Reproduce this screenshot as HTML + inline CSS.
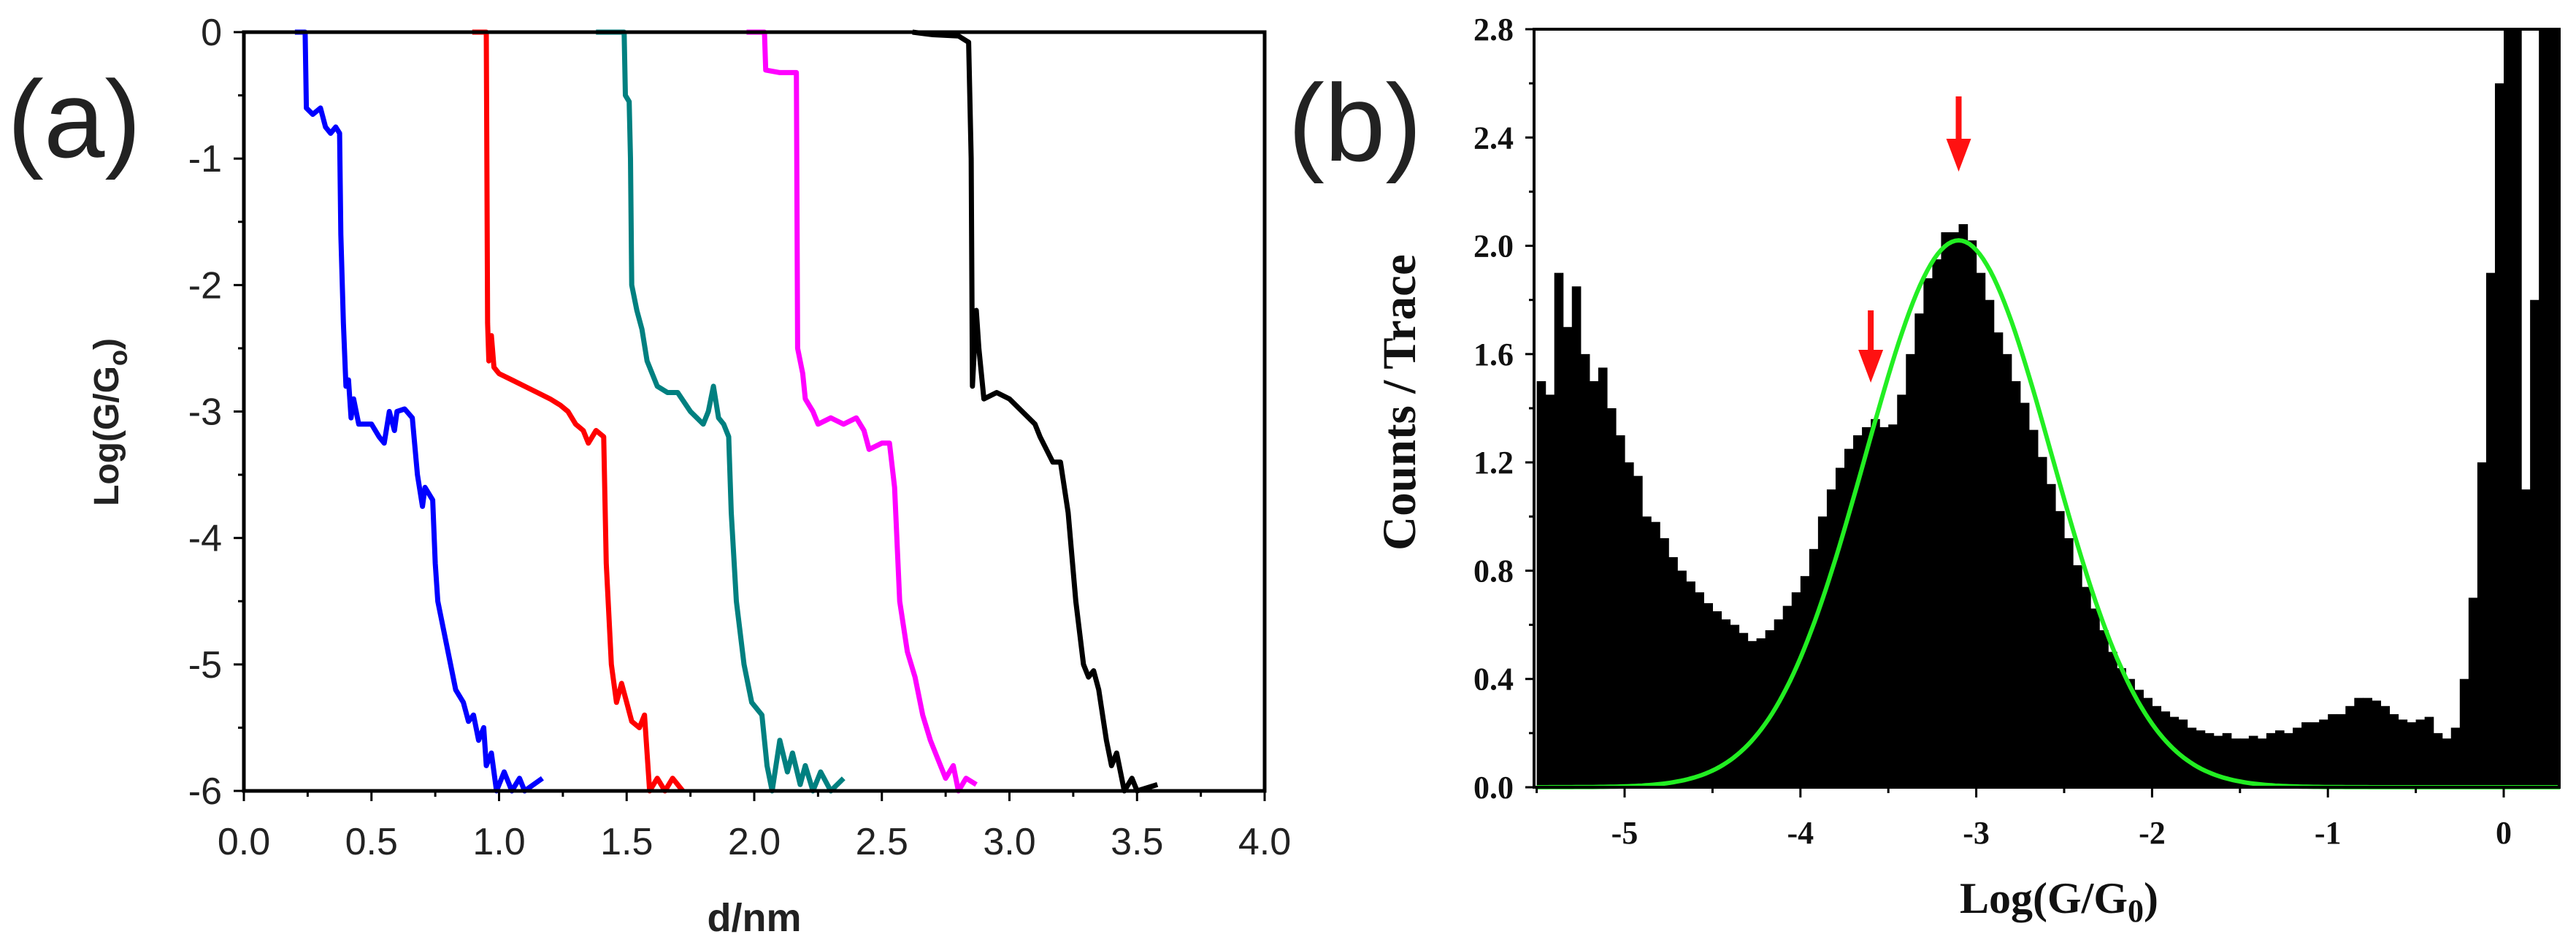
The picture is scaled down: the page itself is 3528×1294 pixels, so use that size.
<!DOCTYPE html>
<html><head><meta charset="utf-8"><style>
html,body{margin:0;padding:0;background:#fff;}
svg{display:block;}
</style></head><body>
<svg id="fig" width="3528" height="1294" viewBox="0 0 3528 1294" xmlns="http://www.w3.org/2000/svg">
<g id="pa"></g>
<g id="pb"></g>
</svg>
<script>
// ---- Panel (a) data ----
const aXTicks = [0,0.5,1,1.5,2,2.5,3,3.5,4];
const aXTickLabels = ["0.0","0.5","1.0","1.5","2.0","2.5","3.0","3.5","4.0"];
const aYTicks = [0,-1,-2,-3,-4,-5,-6];
const traceColors = ["#0000ff","#ff0000","#008080","#ff00ff","#000000"];
const traceBlue = [[0.2,0],[0.24,0],[0.245,-0.6],[0.27,-0.65],[0.3,-0.6],[0.32,-0.75],[0.34,-0.8],[0.36,-0.75],[0.375,-0.8],[0.38,-1.6],[0.39,-2.3],[0.4,-2.8],[0.41,-2.75],[0.42,-3.05],[0.43,-2.9],[0.45,-3.1],[0.5,-3.1],[0.53,-3.2],[0.55,-3.25],[0.57,-3.0],[0.59,-3.15],[0.6,-3.0],[0.63,-2.98],[0.66,-3.05],[0.68,-3.5],[0.7,-3.75],[0.71,-3.6],[0.74,-3.7],[0.75,-4.2],[0.76,-4.5],[0.8,-4.9],[0.83,-5.2],[0.86,-5.3],[0.88,-5.45],[0.9,-5.4],[0.92,-5.6],[0.94,-5.5],[0.95,-5.8],[0.97,-5.7],[0.99,-6],[1.02,-5.85],[1.05,-6],[1.08,-5.9],[1.1,-6],[1.17,-5.9]];
const traceRed = [[0.895,0],[0.95,0],[0.955,-2.3],[0.96,-2.6],[0.97,-2.4],[0.98,-2.65],[1.0,-2.7],[1.05,-2.75],[1.1,-2.8],[1.15,-2.85],[1.2,-2.9],[1.24,-2.95],[1.27,-3.0],[1.3,-3.1],[1.33,-3.15],[1.35,-3.25],[1.38,-3.15],[1.41,-3.2],[1.42,-4.2],[1.43,-4.6],[1.44,-5.0],[1.46,-5.3],[1.48,-5.15],[1.5,-5.3],[1.52,-5.45],[1.55,-5.5],[1.57,-5.4],[1.58,-5.7],[1.59,-6],[1.62,-5.9],[1.65,-6],[1.68,-5.9],[1.72,-6]];
const traceTeal = [[1.38,0],[1.49,0],[1.495,-0.5],[1.51,-0.55],[1.515,-1.0],[1.52,-2.0],[1.54,-2.2],[1.56,-2.35],[1.58,-2.6],[1.62,-2.8],[1.66,-2.85],[1.7,-2.85],[1.75,-3.0],[1.8,-3.1],[1.82,-3.0],[1.84,-2.8],[1.86,-3.05],[1.88,-3.1],[1.9,-3.2],[1.91,-3.8],[1.93,-4.5],[1.96,-5.0],[1.99,-5.3],[2.03,-5.4],[2.05,-5.8],[2.07,-6],[2.1,-5.6],[2.13,-5.85],[2.15,-5.7],[2.18,-5.95],[2.2,-5.8],[2.23,-6],[2.26,-5.85],[2.3,-6],[2.35,-5.9]];
const traceMagenta = [[1.97,0],[2.04,0],[2.045,-0.3],[2.1,-0.32],[2.165,-0.32],[2.17,-2.5],[2.19,-2.7],[2.2,-2.9],[2.23,-3.0],[2.25,-3.1],[2.3,-3.05],[2.35,-3.1],[2.4,-3.05],[2.43,-3.15],[2.45,-3.3],[2.5,-3.25],[2.53,-3.25],[2.55,-3.6],[2.57,-4.5],[2.6,-4.9],[2.63,-5.1],[2.66,-5.4],[2.69,-5.6],[2.72,-5.75],[2.75,-5.9],[2.78,-5.8],[2.8,-6],[2.83,-5.9],[2.87,-5.95]];
const traceBlack = [[2.62,0],[2.7,-0.02],[2.8,-0.03],[2.84,-0.08],[2.85,-1.0],[2.855,-2.8],[2.86,-2.6],[2.87,-2.2],[2.88,-2.5],[2.9,-2.9],[2.95,-2.85],[3.0,-2.9],[3.05,-3.0],[3.1,-3.1],[3.12,-3.2],[3.17,-3.4],[3.2,-3.4],[3.23,-3.8],[3.26,-4.5],[3.29,-5.0],[3.31,-5.1],[3.33,-5.05],[3.35,-5.2],[3.38,-5.6],[3.4,-5.8],[3.42,-5.7],[3.45,-6],[3.48,-5.9],[3.5,-6],[3.58,-5.95]];
const traceNames = ["trace-blue","trace-red","trace-teal","trace-magenta","trace-black"];

// ---- Panel (b) data ----
const binStart = -5.5;
const binWidth = 0.05;
const histCounts = [1.5,1.45,1.9,1.7,1.85,1.6,1.5,1.55,1.4,1.3,1.2,1.15,1.0,0.98,0.92,0.85,0.8,0.76,0.72,0.68,0.65,0.62,0.6,0.57,0.54,0.55,0.58,0.62,0.67,0.72,0.78,0.88,1.0,1.1,1.18,1.25,1.3,1.33,1.36,1.33,1.34,1.45,1.6,1.75,1.88,1.95,2.05,2.05,2.08,2.02,1.9,1.8,1.68,1.6,1.5,1.42,1.32,1.22,1.12,1.02,0.92,0.82,0.74,0.66,0.58,0.5,0.44,0.4,0.36,0.33,0.3,0.28,0.26,0.25,0.22,0.21,0.2,0.19,0.2,0.18,0.18,0.19,0.18,0.2,0.21,0.2,0.22,0.24,0.24,0.25,0.27,0.27,0.3,0.33,0.33,0.32,0.3,0.27,0.25,0.24,0.25,0.26,0.2,0.18,0.22,0.4,0.7,1.2,1.9,2.6,2.8,2.8,1.1,1.8,2.8,2.8,2.8];
const gaussCenter = -3.1;
const gaussPeak = 2.02;
const gaussSigma = 0.53;
const arrowXs = [-3.1,-3.6];
const bXTicks = [-5,-4,-3,-2,-1,0];
const bYTicks = [0,0.4,0.8,1.2,1.6,2.0,2.4,2.8];
const bYTickLabels = ["0.0","0.4","0.8","1.2","1.6","2.0","2.4","2.8"];

const NS="http://www.w3.org/2000/svg";
function mk(parent,tag,attrs,text){const e=document.createElementNS(NS,tag);for(const k in attrs)e.setAttribute(k,attrs[k]);if(text!==undefined)e.textContent=text;parent.appendChild(e);return e;}

// ===== Panel A =====
const pa=document.getElementById('pa');
const aL=334,aR=1732,aT=44,aB=1083;
const ax=d=>aL+(d-0)/(4-0)*(aR-aL);
const ay=v=>aT+(0-v)/6*(aB-aT);
let t;
t=mk(pa,'text',{x:10,y:215,'font-family':'Liberation Sans, sans-serif','font-size':150,fill:'#222'},'(a)');


const sers=[traceBlue,traceRed,traceTeal,traceMagenta,traceBlack];
sers.forEach((s,i)=>{
  const p=mk(pa,'polyline',{points:s.map(q=>ax(q[0]).toFixed(1)+','+ay(q[1]).toFixed(1)).join(' '),fill:'none',stroke:traceColors[i],'stroke-width':7,'stroke-linejoin':'round'});
  
  
});
t=mk(pa,'rect',{x:aL,y:aT,width:aR-aL,height:aB-aT,fill:'none',stroke:'#000','stroke-width':5});


aXTicks.forEach((v,i)=>{
  mk(pa,'line',{x1:ax(v),x2:ax(v),y1:aB,y2:aB+14,stroke:'#000','stroke-width':3});
  if(i<aXTicks.length-1) mk(pa,'line',{x1:ax(v+0.25),x2:ax(v+0.25),y1:aB,y2:aB+8,stroke:'#000','stroke-width':3});
  const l=mk(pa,'text',{x:ax(v),y:1170,'text-anchor':'middle','font-family':'Liberation Sans, sans-serif','font-size':52,fill:'#222'},aXTickLabels[i]);
  
  
});
aYTicks.forEach((v,i)=>{
  mk(pa,'line',{x1:aL-14,x2:aL,y1:ay(v),y2:ay(v),stroke:'#000','stroke-width':3});
  if(v>-6) mk(pa,'line',{x1:aL-8,x2:aL,y1:ay(v-0.5),y2:ay(v-0.5),stroke:'#000','stroke-width':3});
  const l=mk(pa,'text',{x:aL-30,y:ay(v)+18,'text-anchor':'end','font-family':'Liberation Sans, sans-serif','font-size':52,fill:'#222'},String(v));
  
  
});
t=mk(pa,'text',{x:(aL+aR)/2,y:1275,'text-anchor':'middle','font-family':'Liberation Sans, sans-serif','font-size':54,'font-weight':'bold',fill:'#222'},'d/nm');


t=mk(pa,'text',{x:0,y:0,transform:'translate(162,578) rotate(-90)','text-anchor':'middle','font-family':'Liberation Sans, sans-serif','font-size':48,'font-weight':'bold',fill:'#222'});
t.innerHTML='Log(G/G<tspan font-size="36" dy="12">o</tspan><tspan dy="-12">)</tspan>';



// ===== Panel B =====
const pb=document.getElementById('pb');
const bL=2101,bR=3505,bT=40,bB=1078;
const bx=v=>2225+(v+5)*240.8;
const by=c=>bB-c/2.8*(bB-bT);
t=mk(pb,'text',{x:1764,y:220,'font-family':'Liberation Sans, sans-serif','font-size':150,fill:'#222'},'(b)');


const hg=mk(pb,'g',{});


histCounts.forEach((c,i)=>{
  const x0=bx(binStart+i*binWidth), x1=Math.min(bx(binStart+(i+1)*binWidth),bR);
  if(x0>=bR) return;
  const r=mk(hg,'rect',{x:x0,y:by(Math.min(c,2.8)),width:x1-x0+0.6,height:bB-by(Math.min(c,2.8)),fill:'#000'});
  
  
});
let gp=[];
for(let v=-5.5;v<=0.32;v+=0.02){gp.push(bx(v).toFixed(1)+','+by(gaussPeak*Math.exp(-((v-gaussCenter)**2)/(2*gaussSigma*gaussSigma))).toFixed(1));}
t=mk(pb,'polyline',{points:gp.join(' '),fill:'none',stroke:'#22ee22','stroke-width':6});


t=mk(pb,'path',{d:`M${bL} ${bT}H${bR}V${bB}H${bL}Z`,fill:'none',stroke:'#000','stroke-width':4});


const arrowTop=[132,425],arrowBot=[235,524];
arrowXs.forEach((v,i)=>{
  const x=bx(v);
  const g=mk(pb,'g',{});
  
  
  mk(g,'line',{x1:x,x2:x,y1:arrowTop[i],y2:arrowBot[i]-40,stroke:'#ff1111','stroke-width':8});
  mk(g,'polygon',{points:`${x-17},${arrowBot[i]-45} ${x+17},${arrowBot[i]-45} ${x},${arrowBot[i]}`,fill:'#ff1111'});
});
bXTicks.forEach(v=>{
  mk(pb,'line',{x1:bx(v),x2:bx(v),y1:bB,y2:bB+14,stroke:'#000','stroke-width':3});
  mk(pb,'line',{x1:bx(v-0.5),x2:bx(v-0.5),y1:bB,y2:bB+8,stroke:'#000','stroke-width':3});
  const l=mk(pb,'text',{x:bx(v),y:1155,'text-anchor':'middle','font-family':'Liberation Serif, serif','font-size':44,'font-weight':'bold',fill:'#111'},String(v));
  
  
});
bYTicks.forEach((v,i)=>{
  mk(pb,'line',{x1:bL-12,x2:bL,y1:by(v),y2:by(v),stroke:'#000','stroke-width':3});
  if(v<2.8) mk(pb,'line',{x1:bL-7,x2:bL,y1:by(v+0.2),y2:by(v+0.2),stroke:'#000','stroke-width':3});
  const l=mk(pb,'text',{x:2073,y:by(v)+15,'text-anchor':'end','font-family':'Liberation Serif, serif','font-size':44,'font-weight':'bold',fill:'#111'},bYTickLabels[i]);
  
  
});
t=mk(pb,'text',{x:2820,y:1250,'text-anchor':'middle','font-family':'Liberation Serif, serif','font-size':60,'font-weight':'bold',fill:'#111'});
t.innerHTML='Log(G/G<tspan font-size="44" dy="12">0</tspan><tspan dy="-12">)</tspan>';


t=mk(pb,'text',{x:0,y:0,transform:'translate(1938,551) rotate(-90)','text-anchor':'middle','font-family':'Liberation Serif, serif','font-size':65,'font-weight':'bold',fill:'#111'},'Counts / Trace');


</script>
</body></html>
